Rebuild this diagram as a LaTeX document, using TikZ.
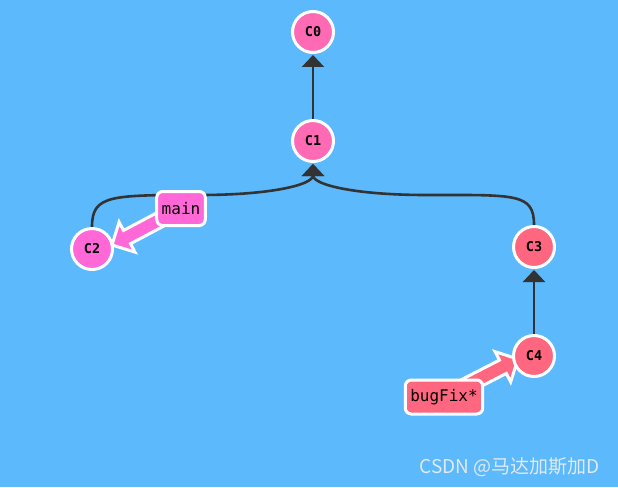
\documentclass[tikz,border=0pt]{standalone}
\usepackage{fontspec}
\newfontfamily\monofont{DejaVu Sans Mono}
\newfontfamily\cjkfont{Noto Sans CJK SC}
\usetikzlibrary{arrows.meta,calc}
\definecolor{bgcol}{RGB}{92,185,252}
\definecolor{edgecol}{RGB}{51,51,51}
\definecolor{maincol}{RGB}{255,106,180}
\definecolor{branchmain}{RGB}{255,104,214}
\definecolor{bugcol}{RGB}{255,102,128}
\definecolor{wmcol}{RGB}{226,233,240}
\pgfdeclarelayer{back}
\pgfdeclarelayer{ptr}
\pgfsetlayers{back,ptr,main}
\newcommand\branchptr[3]{%
  \coordinate (pn) at ($(#2)!17pt!(#1)$);
  \filldraw[fill=#3, draw=white, line width=3pt, line join=miter]
    ($(#1)!7.5pt!90:(#2)$) -- ($(pn)!7.5pt!90:(#2)$) -- ($(pn)!17pt!90:(#2)$) -- (#2)
    -- ($(pn)!17pt!-90:(#2)$) -- ($(pn)!7.5pt!-90:(#2)$) -- ($(#1)!7.5pt!-90:(#2)$) -- cycle;}
\begin{document}
\begin{tikzpicture}[x=1pt,y=-1pt,
  commit/.style={circle, minimum size=41pt, inner sep=0pt, draw=white, line width=3pt,
    font=\monofont\bfseries\fontsize{13.5}{15}\selectfont},
  branchlabel/.style={rounded corners=6pt, draw=white, line width=3pt, inner xsep=5pt,
    minimum height=34pt, font=\monofont\fontsize{16}{18}\selectfont},
  edge/.style={draw=edgecol, line width=2.6pt, shorten >=1pt,
    -{Triangle[width=22pt,length=12pt]}}]
\begin{pgfonlayer}{back}
\fill[bgcol] (0,0) rectangle (618,487);
\end{pgfonlayer}
\useasboundingbox (0,0) rectangle (618,487);

\node[commit, fill=maincol] (c0) at (313,32) {C0};
\node[commit, fill=maincol] (c1) at (313,141) {C1};
\node[commit, fill=branchmain] (c2) at (92,249) {C2};
\node[commit, fill=bugcol] (c3) at (534,247) {C3};
\node[commit, fill=bugcol] (c4) at (534,356) {C4};

\draw[edge] (c1) -- (c0);
\draw[edge] (c4) -- (c3);
\draw[edge] (c2.north) .. controls +(0,-32) and +(-90,0) .. (200,195)
  .. controls +(70,0) and +(0,22) .. (c1.south);
\draw[edge] (c3.north) .. controls +(0,-32) and +(90,0) .. (426,195)
  .. controls +(-70,0) and +(0,22) .. (c1.south);

\node[branchlabel, fill=branchmain] (main) at (181,208.5) {main};
\node[branchlabel, fill=bugcol] (bugfix) at (444,397) {bugFix*};
\coordinate (tm) at ($(c2)+(20,-4)$);
\coordinate (tb) at ($(c4)+(-16,3)$);
\begin{pgfonlayer}{ptr}
\branchptr{main.center}{tm}{branchmain}
\branchptr{bugfix.center}{tb}{bugcol}
\end{pgfonlayer}

\node[font=\cjkfont\fontsize{19}{22}\selectfont, text=wmcol, inner sep=0pt] (wm) at (510,467) {CSDN @马达加斯加D};
\end{tikzpicture}
\end{document}
